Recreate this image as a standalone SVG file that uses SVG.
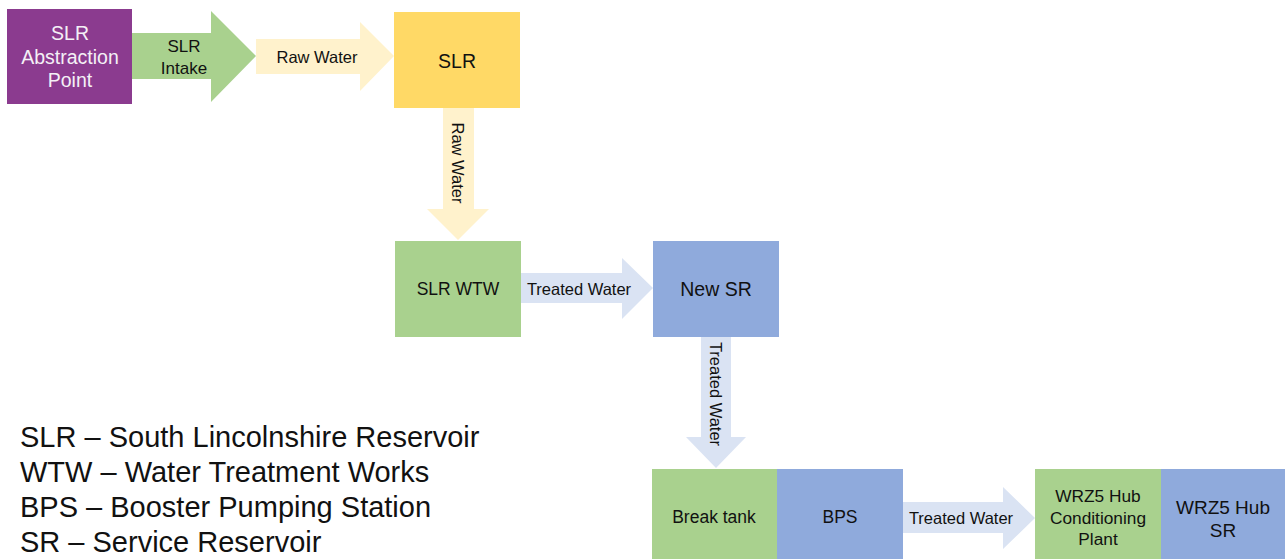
<svg xmlns="http://www.w3.org/2000/svg" width="1287" height="559" viewBox="0 0 1287 559">
<style>
text{font-family:"Liberation Sans",Arial,sans-serif;fill:#111;text-anchor:middle;dominant-baseline:central}
.n{font-size:19.5px}
.s{font-size:17.5px}
.m{font-size:19px}
.c{font-size:17.3px}
.i{font-size:17px}
.l{font-size:16.5px}
.w{fill:#F4F0F6}
.lg{font-size:29px;text-anchor:start;dominant-baseline:alphabetic}
.pu{fill:#8B3B8F}.gr{fill:#A9D18E}.ye{fill:#FFD966}.ly{fill:#FFF2CC}.bl{fill:#8FAADC}.lb{fill:#DAE3F3}
</style>
<g id="connectors">
<g id="arrow-intake"><polygon class="gr" points="132,33 211,33 211,11 256,56 211,102 211,79 132,79"/><text class="i" x="184" y="46">SLR</text><text class="i" x="184" y="68">Intake</text></g>
<g id="arrow-raw1"><polygon class="ly" points="256,39 360,39 360,22 394,56 360,91 360,74 256,74"/><text class="l" x="317" y="57">Raw Water</text></g>
<g id="arrow-raw2"><polygon class="ly" points="443,108 474,108 474,209 489,209 458,240 427,209 443,209"/><text class="l" transform="translate(458,163) rotate(90)">Raw Water</text></g>
<g id="arrow-tw1"><polygon class="lb" points="521,273 622,273 622,258 653,288 622,319 622,303 521,303"/><text class="l" x="579" y="289">Treated Water</text></g>
<g id="arrow-tw2"><polygon class="lb" points="701,337 731,337 731,437 746,437 716,468 686,437 701,437"/><text class="l" transform="translate(716,394) rotate(90)">Treated Water</text></g>
<g id="arrow-tw3"><polygon class="lb" points="903,502 1003,502 1003,487 1035,518 1003,549 1003,533 903,533"/><text class="l" x="961" y="518">Treated Water</text></g>
</g>
<g id="abstraction"><rect class="pu" x="7" y="9" width="125" height="95"/><text class="n w" x="70" y="33">SLR</text><text class="n w" x="70" y="57">Abstraction</text><text class="n w" x="70" y="80">Point</text></g>
<g id="slr"><rect class="ye" x="394" y="12" width="126" height="96"/><text class="n" x="457" y="61">SLR</text></g>
<g id="wtw"><rect class="gr" x="395" y="241" width="126" height="96"/><text class="s" x="458" y="289">SLR WTW</text></g>
<g id="newsr"><rect class="bl" x="653" y="241" width="126" height="96"/><text class="n" x="716" y="289">New SR</text></g>
<g id="breaktank"><rect class="gr" x="652" y="469" width="125" height="90"/><text class="s" x="714" y="517">Break tank</text></g>
<g id="bps"><rect class="bl" x="777" y="469" width="126" height="90"/><text class="s" x="840" y="517">BPS</text></g>
<g id="conditioning"><rect class="gr" x="1035" y="469" width="126" height="90"/><text class="c" x="1098" y="496">WRZ5 Hub</text><text class="c" x="1098" y="518">Conditioning</text><text class="c" x="1098" y="539">Plant</text></g>
<g id="hubsr"><rect class="bl" x="1161" y="469" width="124" height="90"/><text class="m" x="1223" y="507">WRZ5 Hub</text><text class="m" x="1223" y="530">SR</text></g>
<g id="legend">
<text class="lg" x="20" y="447">SLR – South Lincolnshire Reservoir</text>
<text class="lg" x="20" y="482">WTW – Water Treatment Works</text>
<text class="lg" x="20" y="517">BPS – Booster Pumping Station</text>
<text class="lg" x="20" y="552">SR – Service Reservoir</text>
</g>
</svg>
